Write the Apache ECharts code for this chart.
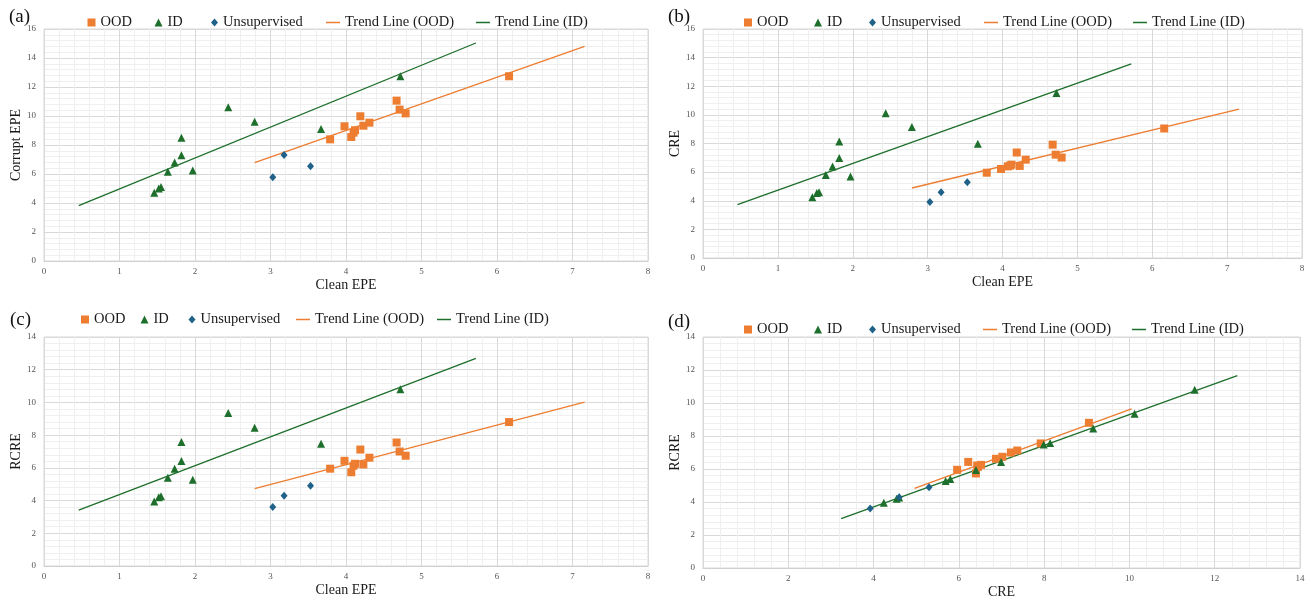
<!DOCTYPE html>
<html>
<head>
<meta charset="utf-8">
<script src="https://cdn.jsdelivr.net/npm/echarts@6/dist/echarts.min.js"></script>
<style>
  html, body { margin: 0; padding: 0; background: #fff; }
  #main { width: 1316px; height: 605px; }
</style>
</head>
<body>
<div id="main"></div>
<script>
// values per model group, same order in every metric
var cleanOOD   = [3.79, 3.98, 4.07, 4.10, 4.12, 4.19, 4.23, 4.31, 4.67, 4.71, 4.79, 6.16];
var corruptOOD = [8.39, 9.29, 8.55, 8.85, 9.02, 9.98, 9.33, 9.54, 11.06, 10.44, 10.18, 12.74];
var creOOD     = [5.96, 6.22, 6.40, 6.45, 6.52, 7.37, 6.43, 6.87, 7.92, 7.22, 7.02, 9.05];
var rcreOOD    = [5.95, 6.43, 5.73, 6.13, 6.25, 7.12, 6.21, 6.62, 7.55, 7.00, 6.74, 8.80];

var cleanID   = [1.46, 1.52, 1.55, 1.64, 1.73, 1.82, 1.82, 1.97, 2.44, 2.79, 3.67, 4.72];
var corruptID = [4.70, 5.00, 5.10, 6.15, 6.80, 7.30, 8.50, 6.25, 10.60, 9.60, 9.10, 12.75];
var creID     = [4.24, 4.54, 4.60, 5.80, 6.40, 6.99, 8.14, 5.69, 10.12, 9.15, 7.99, 11.53];
var rcreID    = [3.95, 4.20, 4.27, 5.40, 5.94, 6.42, 7.58, 5.28, 9.35, 8.45, 7.48, 10.80];

var cleanUns   = [3.03, 3.18, 3.53];
var corruptUns = [5.77, 7.31, 6.53];
var creUns     = [3.92, 4.60, 5.30];
var rcreUns    = [3.60, 4.29, 4.90];

var legendNames = ['OOD', 'ID', 'Unsupervised', 'Trend Line (OOD)', 'Trend Line (ID)'];

var FONT = "'Liberation Serif', 'Times New Roman', serif";
var ORANGE = '#ED7D31', GREEN = '#1D6F2B', BLUE = '#1F6188';

// legend icon look per entry (same order as legendNames)
var legendIcons = [
  { icon: 'rect', w: 8, h: 8 },
  { icon: 'triangle', w: 8, h: 8 },
  { icon: 'diamond', w: 7, h: 8 },
  { icon: 'rect', w: 14, h: 1.5 },
  { icon: 'rect', w: 14, h: 1.5 }
];

var panels = [
  { tag: '(a)', tagPos: [4, 3], legendY: 22, legendText: [100.5, 167.5, 223, 345, 495],
    grid: { left: 44, top: 29, width: 604, height: 232 },
    xName: 'Clean EPE', yName: 'Corrupt EPE', xMax: 8, xStep: 1, yMax: 16, yStep: 2,
    ood: [cleanOOD, corruptOOD], id: [cleanID, corruptID], uns: [cleanUns, corruptUns] },
  { tag: '(b)', tagPos: [663, 3], legendY: 22, legendText: [757, 827, 881, 1003, 1152],
    grid: { left: 703, top: 29, width: 599, height: 229 },
    xName: 'Clean EPE', yName: 'CRE', xMax: 8, xStep: 1, yMax: 16, yStep: 2,
    ood: [cleanOOD, creOOD], id: [cleanID, creID], uns: [cleanUns, creUns] },
  { tag: '(c)', tagPos: [5, 306], legendY: 319, legendText: [94, 153.5, 200.5, 315, 456],
    grid: { left: 44, top: 337, width: 604, height: 229 },
    xName: 'Clean EPE', yName: 'RCRE', xMax: 8, xStep: 1, yMax: 14, yStep: 2,
    ood: [cleanOOD, rcreOOD], id: [cleanID, rcreID], uns: [cleanUns, rcreUns] },
  { tag: '(d)', tagPos: [663, 308], legendY: 329, legendText: [757, 827, 881, 1002, 1151],
    grid: { left: 703, top: 337, width: 597, height: 231 },
    xName: 'CRE', yName: 'RCRE', xMax: 14, xStep: 2, yMax: 14, yStep: 2,
    ood: [creOOD, rcreOOD], id: [creID, rcreID], uns: [creUns, rcreUns] }
];

function pairs(xs, ys) {
  return xs.map(function (x, i) { return [x, ys[i]]; });
}

// least-squares trend line, extended one unit past the data on both sides
function trend(xs, ys) {
  var n = xs.length, mx = 0, my = 0, sxy = 0, sxx = 0;
  xs.forEach(function (x, i) { mx += x / n; my += ys[i] / n; });
  xs.forEach(function (x, i) { sxy += (x - mx) * (ys[i] - my); sxx += (x - mx) * (x - mx); });
  var k = sxy / sxx, b = my - k * mx;
  var x0 = Math.min.apply(null, xs) - 1, x1 = Math.max.apply(null, xs) + 1;
  return [[x0, k * x0 + b], [x1, k * x1 + b]];
}

function axis(i, max, step, name, gap, isX) {
  return {
    gridIndex: i, type: 'value', min: 0, max: max, interval: step,
    name: name, nameLocation: 'middle', nameGap: gap,
    nameTextStyle: { fontFamily: FONT, fontSize: 14, color: '#1a1a1a' },
    axisLine: { show: isX, lineStyle: { color: '#d0d0d0' } },
    axisTick: { show: false },
    axisLabel: { fontFamily: FONT, fontSize: 9, color: '#555', margin: isX ? 6 : 8 },
    splitLine: { show: true, lineStyle: { color: '#d9d9d9', width: 1 } },
    minorTick: { show: false, splitNumber: 5 },
    minorSplitLine: { show: true, lineStyle: { color: '#efefef', width: 1 } }
  };
}

var grids = [], xAxes = [], yAxes = [], series = [], legends = [], titles = [];

panels.forEach(function (p, i) {
  grids.push(Object.assign({ show: true, borderColor: '#d9d9d9', borderWidth: 1 }, p.grid));
  xAxes.push(axis(i, p.xMax, p.xStep, p.xName, 17, true));
  yAxes.push(axis(i, p.yMax, p.yStep, p.yName, 20, false));
  titles.push({ text: p.tag, left: p.tagPos[0], top: p.tagPos[1],
    textStyle: { fontFamily: FONT, fontSize: 19, fontWeight: 'normal', color: '#111' } });

  // one legend per entry so every item sits where the reference has it
  legendNames.forEach(function (name, j) {
    var ic = legendIcons[j];
    legends.push({
      left: p.legendText[j] - ic.w - 5, top: p.legendY - 7, padding: 0,
      itemWidth: ic.w, itemHeight: ic.h,
      textStyle: { fontFamily: FONT, fontSize: 14.5, color: '#1a1a1a' },
      data: [{ name: name, icon: ic.icon }]
    });
  });

  series.push({ name: 'Trend Line (OOD)', type: 'line', xAxisIndex: i, yAxisIndex: i, z: 1,
    data: trend(p.ood[0], p.ood[1]), showSymbol: false, symbol: 'none',
    lineStyle: { color: ORANGE, width: 1.3 }, itemStyle: { color: ORANGE } });
  series.push({ name: 'Trend Line (ID)', type: 'line', xAxisIndex: i, yAxisIndex: i, z: 1,
    data: trend(p.id[0], p.id[1]), showSymbol: false, symbol: 'none',
    lineStyle: { color: GREEN, width: 1.3 }, itemStyle: { color: GREEN } });
  series.push({ name: 'OOD', type: 'scatter', xAxisIndex: i, yAxisIndex: i, z: 3,
    symbol: 'rect', symbolSize: 8, itemStyle: { color: ORANGE, opacity: 1 },
    data: pairs(p.ood[0], p.ood[1]) });
  series.push({ name: 'ID', type: 'scatter', xAxisIndex: i, yAxisIndex: i, z: 3,
    symbol: 'triangle', symbolSize: 8, itemStyle: { color: GREEN, opacity: 1 },
    data: pairs(p.id[0], p.id[1]) });
  series.push({ name: 'Unsupervised', type: 'scatter', xAxisIndex: i, yAxisIndex: i, z: 3,
    symbol: 'diamond', symbolSize: [7, 8], itemStyle: { color: BLUE, opacity: 1 },
    data: pairs(p.uns[0], p.uns[1]) });
});

var chart = echarts.init(document.getElementById('main'));
chart.setOption({
  backgroundColor: '#fff',
  animation: false,
  title: titles,
  legend: legends,
  grid: grids,
  xAxis: xAxes,
  yAxis: yAxes,
  series: series
});
</script>
</body>
</html>
